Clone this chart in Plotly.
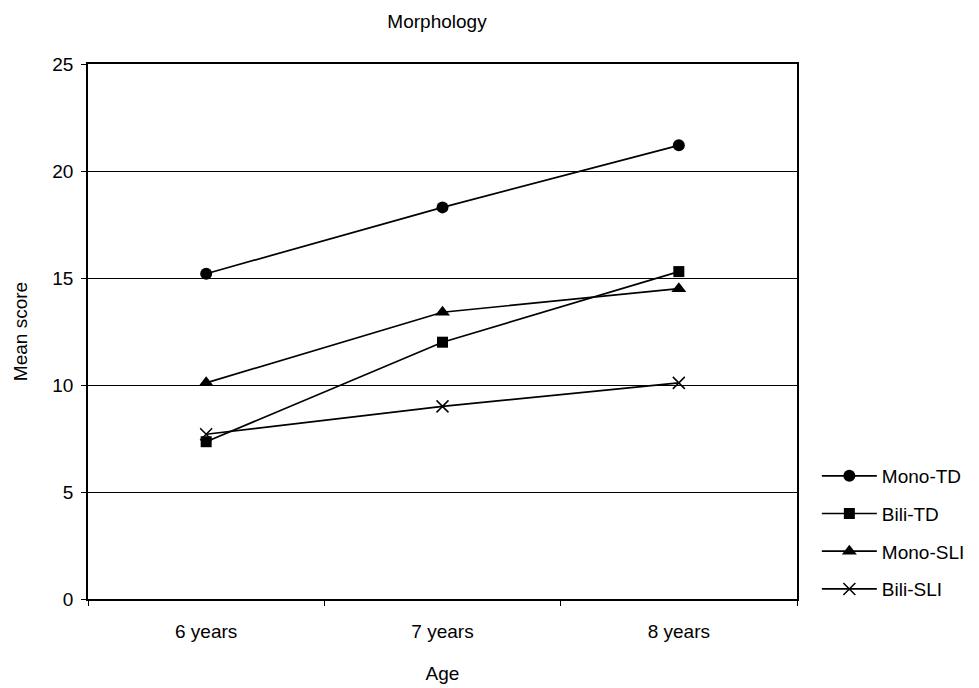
import plotly.graph_objects as go

ages = ["6 years", "7 years", "8 years"]
mono_td = [15.2, 18.3, 21.2]
bili_td = [7.35, 12.0, 15.3]
mono_sli = [10.1, 13.4, 14.5]
bili_sli = [7.7, 9.0, 10.1]

series = [
    ("Mono-TD", mono_td, "circle", 12),
    ("Bili-TD", bili_td, "square", 11),
    ("Mono-SLI", mono_sli, "triangle-up", 13),
    ("Bili-SLI", bili_sli, "x-thin", 12),
]

fig = go.Figure()
for name, vals, sym, sz in series:
    fig.add_trace(go.Scatter(
        x=ages, y=vals, name=name, mode="lines+markers",
        legendgroup=name,
        line=dict(color="black", width=1.7),
        marker=dict(symbol=sym, size=sz, color="black",
                    line=dict(color="black", width=1.5 if sym == "x-thin" else 0)),
    ))

FS = 19
font = dict(family="Liberation Sans, Arial, sans-serif", size=FS, color="black")

fig.update_layout(
    width=979, height=688,
    margin=dict(l=88, r=182, t=64, b=89, autoexpand=False),
    paper_bgcolor="white", plot_bgcolor="white",
    font=font,
    title=dict(text="Morphology", x=437 / 979, xanchor="center", y=1 - 21 / 688, yanchor="middle",
               font=dict(size=FS)),
    showlegend=True,
    legend=dict(x=1.028, xanchor="left", y=0.2655, yanchor="top",
                tracegroupgap=10, itemwidth=55, font=dict(size=FS),
                bgcolor="rgba(0,0,0,0)"),
    xaxis=dict(
        type="category", range=[-0.5, 2.5], tickson="boundaries",
        ticks="outside", ticklen=5, tickcolor="black", tickwidth=1,
        showline=True, linecolor="black", linewidth=1.5, mirror=True,
        showgrid=False, title=dict(text="Age", standoff=26, font=dict(size=FS)),
        tickfont=dict(size=FS), ticklabelstandoff=14, automargin=False,
    ),
    yaxis=dict(
        range=[0, 25], dtick=5, ticks="outside", ticklen=5, tickcolor="black",
        showline=True, linecolor="black", linewidth=1.5, mirror=True,
        showgrid=True, gridcolor="black", gridwidth=1, zeroline=False,
        title=dict(text="Mean score", standoff=20, font=dict(size=FS)),
        tickfont=dict(size=FS), ticklabelstandoff=4, automargin=False,
    ),
)

fig.write_html("out.html")
